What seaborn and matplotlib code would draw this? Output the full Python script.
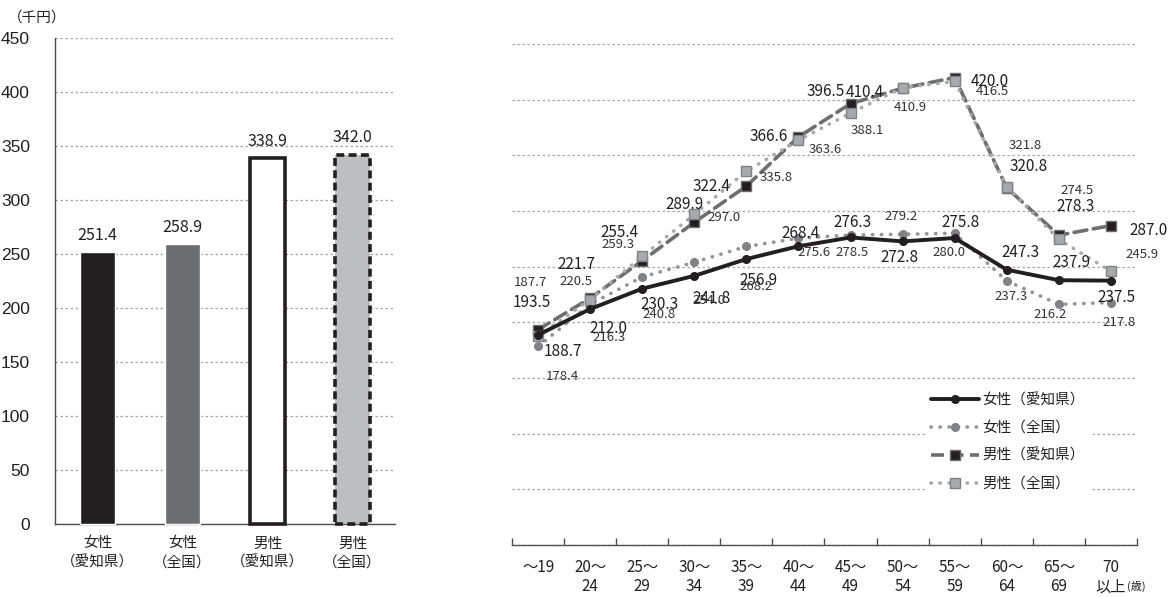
import matplotlib
matplotlib.use("Agg")
import matplotlib.pyplot as plt
import seaborn as sns
import numpy as np
from matplotlib.lines import Line2D

# ---------------- data ----------------
bar_cats = ["女性\n（愛知県）", "女性\n（全国）", "男性\n（愛知県）", "男性\n（全国）"]
bar_vals = [251.4, 258.9, 338.9, 342.0]

ages = ["～19", "20～\n24", "25～\n29", "30～\n34", "35～\n39", "40～\n44",
        "45～\n49", "50～\n54", "55～\n59", "60～\n64", "65～\n69", "70\n以上"]
fem_aichi = [188.7, 212.0, 230.3, 241.8, 256.9, 268.4, 276.3, 272.8, 275.8, 247.3, 237.9, 237.5]
fem_nat = [178.4, 216.3, 240.8, 254.0, 268.2, 275.6, 278.5, 279.2, 280.0, 237.3, 216.2, 217.8]
male_aichi = [193.5, 221.7, 255.4, 289.9, 322.4, 366.6, 396.5, 410.4, 420.0, 320.8, 278.3, 287.0]
male_nat = [187.7, 220.5, 259.3, 297.0, 335.8, 363.6, 388.1, 410.9, 416.5, 321.8, 274.5, 245.9]
series_names = ["女性（愛知県）", "女性（全国）", "男性（愛知県）", "男性（全国）"]

# label offsets (pixels: dx right, dy down) -- styling only
off_fa = [(25, 17), (18, 19), (17, 16), (17, 23), (12, 21), (2, -13), (2, -15), (-3, 16), (6, -16), (14, -17), (13, -18), (6, 17)]
off_fn = [(24, 30), (19, 33), (17, 38), (15, 38), (10, 40), (16, 14), (2, 17), (-2, -18), (-6, 19), (4, 16), (-9, 10), (8, 20)]
off_ma = [(-6, -27), (-14, -34), (-23, -28), (-10, -18), (-35, 0), (-30, 0), (-25, -12), (-38, 4), (35, 4), (22, -21), (17, -29), (38, 5)]
off_mn = [(-8, -54), (-14, -18), (-24, -12), (30, 3), (30, 6), (27, 9), (17, 17), (8, 20), (38, 10), (18, -41), (18, -49), (31, -17)]

# ---------------- style ----------------
sns.set_theme(style="white")
plt.rcParams["font.family"] = ["Noto Sans CJK JP", "DejaVu Sans"]

DARK = "#231f20"
GRID = "#a6a6a6"

fig = plt.figure(figsize=(11.7, 5.97), dpi=100)
axL = fig.add_axes([0.047, 0.1223, 0.2906, 0.814])
axR = fig.add_axes([0.4376, 0.0871, 0.5342, 0.839])

# ---------------- left bar chart ----------------
bar_colors = [DARK, "#6d6e70", "#ffffff", "#bcbec0"]
sns.barplot(x=bar_cats, y=bar_vals, hue=bar_cats, palette=bar_colors, width=0.41,
            saturation=1, legend=False, ax=axL, zorder=3)
patches = [p for p in axL.patches]
patches[2].set_edgecolor(DARK)
patches[2].set_linewidth(2.6)
patches[3].set_edgecolor(DARK)
patches[3].set_linewidth(2.6)
patches[3].set_linestyle((0, (2.2, 1.2)))
for p in patches:
    p.set_clip_on(False)

axL.set_ylim(0, 450)
axL.set_xlim(-0.5, 3.5)
axL.set_yticks(np.arange(0, 451, 50))
axL.yaxis.grid(True, color=GRID, linestyle=(0, (2, 2)), linewidth=0.9)
axL.set_axisbelow(True)
for s in ["top", "right"]:
    axL.spines[s].set_visible(False)
for s in ["left", "bottom"]:
    axL.spines[s].set_color("#4d4d4d")
    axL.spines[s].set_linewidth(1.0)
axL.tick_params(axis="y", length=0, pad=18, labelsize=12.5, labelcolor=DARK)
axL.tick_params(axis="x", length=0, pad=9, labelsize=10.5, labelcolor=DARK)
for t in axL.get_yticklabels():
    t.set_fontfamily(["Liberation Sans Narrow", "Liberation Sans", "DejaVu Sans"])
for t in axL.get_xticklabels():
    t.set_linespacing(1.45)
axL.set_xlabel("")
axL.set_ylabel("")
for i, v in enumerate(bar_vals):
    axL.annotate(f"{v:.1f}", xy=(i, v), xytext=(0, 17), textcoords="offset pixels",
                 ha="center", va="center", fontsize=11.5, color=DARK)
fig.text(8 / 1170, 1 - 18 / 597, "（千円）", fontsize=10.5, color=DARK, ha="left", va="center")

# ---------------- right line chart ----------------
x = np.arange(len(ages))
styles = [
    dict(data=fem_nat, color="#939598", linestyle=(0, (0.1, 2.4)), lw=2.6, marker="o",
         ms=5.5, mfc="#808285", mec="#808285", z=3),
    dict(data=male_aichi, color="#6d6e70", linestyle=(0, (3.6, 1.8)), lw=2.6, marker="s",
         ms=7.5, mfc=DARK, mec="#6d6e70", z=4),
    dict(data=male_nat, color="#a7a9ac", linestyle=(0, (0.1, 2.4)), lw=2.6, marker="s",
         ms=7.5, mfc="#a7a9ac", mec="#808285", z=5),
    dict(data=fem_aichi, color=DARK, linestyle="-", lw=2.8, marker="o",
         ms=5.5, mfc=DARK, mec=DARK, z=6),
]
for st in styles:
    sns.lineplot(x=x, y=st["data"], ax=axR, color=st["color"], linestyle=st["linestyle"],
                 linewidth=st["lw"], marker=st["marker"], markersize=st["ms"],
                 markerfacecolor=st["mfc"], markeredgecolor=st["mec"], markeredgewidth=1.0,
                 dash_capstyle="round", zorder=st["z"], legend=False)

axR.set_xlim(-0.5, len(ages) - 0.5)
axR.set_ylim(0, 450)
axR.set_yticks(np.arange(0, 451, 50))
axR.yaxis.grid(True, color=GRID, linestyle=(0, (2, 2)), linewidth=0.9)
axR.set_axisbelow(True)
axR.tick_params(axis="y", length=0, labelleft=False)
for s in ["top", "right", "left"]:
    axR.spines[s].set_visible(False)
axR.spines["bottom"].set_color("#4d4d4d")
axR.spines["bottom"].set_linewidth(1.0)
axR.set_xticks(x)
axR.set_xticklabels(ages)
axR.set_xticks(np.arange(-0.5, len(ages), 1.0), minor=True)
axR.tick_params(axis="x", which="major", length=0, pad=10, labelsize=11, labelcolor=DARK)
axR.tick_params(axis="x", which="minor", length=5, direction="in", color="#4d4d4d", bottom=True)
axR.annotate("(歳)", xy=(len(ages) - 1, 0), xycoords=("data", "axes fraction"),
             xytext=(25, -41), textcoords="offset pixels", ha="center", va="center",
             fontsize=8, color=DARK, annotation_clip=False)

def put_labels(vals, offs, size, color):
    for i, (v, (dx, dy)) in enumerate(zip(vals, offs)):
        axR.annotate(f"{v:.1f}", xy=(i, v), xytext=(dx, -dy), textcoords="offset pixels",
                     ha="center", va="center", fontsize=size, color=color, zorder=8)

put_labels(fem_aichi, off_fa, 11, DARK)
put_labels(fem_nat, off_fn, 9.5, "#333333")
put_labels(male_aichi, off_ma, 11, DARK)
put_labels(male_nat, off_mn, 9.5, "#333333")

handles = [
    Line2D([], [], color=DARK, lw=2.8, marker="o", ms=5.5, mfc=DARK, mec=DARK),
    Line2D([], [], color="#939598", lw=2.6, linestyle=(0, (0.1, 2.4)), dash_capstyle="round",
           marker="o", ms=5.5, mfc="#808285", mec="#808285"),
    Line2D([], [], color="#6d6e70", lw=2.6, linestyle=(0, (3.6, 1.8)), marker="s", ms=7.5,
           mfc=DARK, mec="#6d6e70"),
    Line2D([], [], color="#a7a9ac", lw=2.6, linestyle=(0, (0.1, 2.4)), dash_capstyle="round",
           marker="s", ms=7.5, mfc="#a7a9ac", mec="#808285"),
]
leg = axR.legend(handles, series_names, loc="upper left",
                 bbox_to_anchor=(918 / 1170, 1 - 380 / 597), bbox_transform=fig.transFigure,
                 frameon=True, facecolor="white", edgecolor="white", framealpha=1,
                 fontsize=10.5, handlelength=3.3, handletextpad=0.2, labelspacing=0.95,
                 borderpad=0.4)
leg.set_zorder(10)
for t in leg.get_texts():
    t.set_color(DARK)

fig.savefig("out.png", dpi=100, facecolor="white")
